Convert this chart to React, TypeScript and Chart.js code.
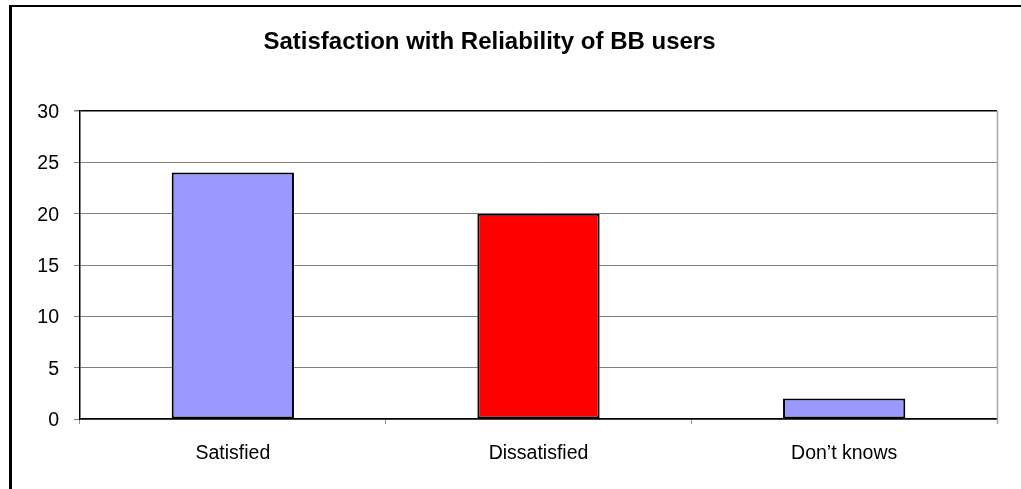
import React, { useEffect, useRef } from "react";
import { Chart, registerables } from "chart.js";

Chart.register(...registerables);

const TITLE = "Satisfaction with Reliability of BB users";
const categories = ["Satisfied", "Dissatisfied", "Don\u2019t knows"];
const values = [24, 20, 2];
const barColors = ["#9999FF", "#FF0000", "#9999FF"];
const yTicks = [0, 5, 10, 15, 20, 25, 30];

const FONT = '"Liberation Sans", Arial, Helvetica, sans-serif';

const extras = {
  id: "extras",
  afterDraw(chart: any) {
    const { ctx, chartArea } = chart;
    ctx.save();
    ctx.strokeStyle = "#a8a8a8";
    ctx.lineWidth = 1.5;
    ctx.beginPath();
    ctx.moveTo(chartArea.right + 0.5, chartArea.top);
    ctx.lineTo(chartArea.right + 0.5, chartArea.bottom + 5);
    ctx.stroke();
    ctx.fillStyle = "#000";
    ctx.font = `bold 24px ${FONT}`;
    ctx.textAlign = "center";
    ctx.textBaseline = "alphabetic";
    ctx.fillText(TITLE, 489.5, 49);
    ctx.restore();
  },
};

export default function App() {
  const ref = useRef<HTMLCanvasElement>(null);
  useEffect(() => {
    if (!ref.current) return;
    const chart = new Chart(ref.current, {
      type: "bar",
      data: {
        labels: categories,
        datasets: [
          {
            data: values,
            backgroundColor: barColors,
            borderColor: "#000",
            borderWidth: 2,
            borderSkipped: false,
            barPercentage: 0.4,
            categoryPercentage: 1,
          },
        ],
      },
      options: {
        responsive: false,
        animation: false,
        layout: { padding: { top: 111, left: 0, right: 24, bottom: 0 } },
        plugins: {
          legend: { display: false },
          title: { display: false },
          tooltip: { enabled: false },
        },
        scales: {
          x: {
            afterFit: (s: any) => {
              s.height = 70;
            },
            grid: {
              display: true,
              drawOnChartArea: false,
              drawTicks: true,
              tickLength: 5,
              tickColor: "#909090",
              offset: true,
            },
            border: { display: true, color: "#000", width: 1.5 },
            ticks: {
              color: "#000",
              padding: 18,
              font: { family: FONT, size: 19.5 },
              maxRotation: 0,
            },
          },
          y: {
            min: 0,
            max: 30,
            afterFit: (s: any) => {
              s.width = 80;
            },
            afterBuildTicks: (s: any) => {
              s.ticks = yTicks.map((v) => ({ value: v }));
            },
            grid: {
              color: (c: any) => (c.tick && c.tick.value === 30 ? "#000" : "#808080"),
              lineWidth: (c: any) => (c.tick && c.tick.value === 30 ? 1.5 : 1),
              tickColor: "#808080",
              tickLength: 6,
            },
            border: { display: true, color: "#000", width: 1.5 },
            ticks: {
              color: "#000",
              padding: 15,
              labelOffset: 1.5,
              font: { family: FONT, size: 19.5 },
            },
          },
        },
      },
      plugins: [extras],
    });
    return () => chart.destroy();
  }, []);

  return (
    <div
      style={{
        position: "absolute",
        left: 0,
        top: 0,
        width: 1021,
        height: 489,
        overflow: "hidden",
        background: "#fff",
      }}
    >
      <canvas ref={ref} width={1021} height={489} style={{ position: "absolute", left: 0, top: 0 }} />
      <div
        style={{
          position: "absolute",
          left: 9,
          top: 5,
          width: 1100,
          height: 600,
          borderLeft: "3px solid #000",
          borderTop: "2px solid #000",
          pointerEvents: "none",
        }}
      />
    </div>
  );
}
